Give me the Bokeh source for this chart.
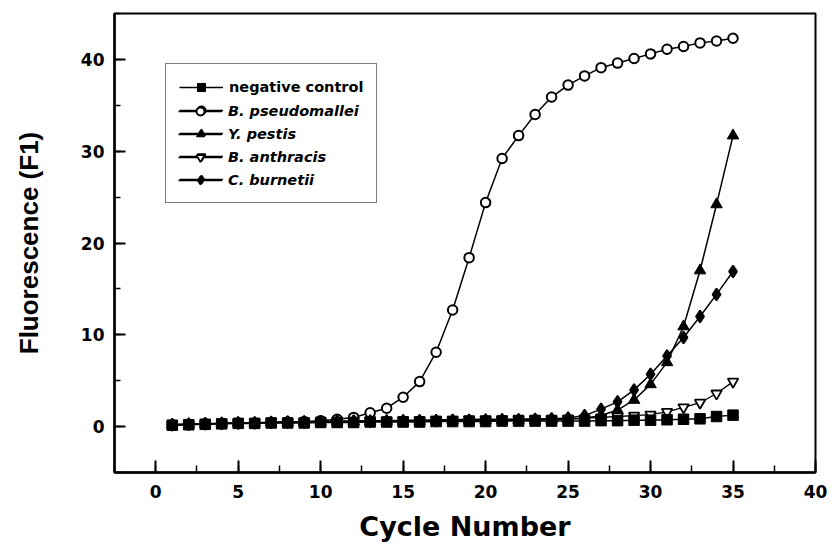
import numpy as np
from bokeh.plotting import figure
from bokeh.models import Legend, LegendItem, SingleIntervalTicker, Range1d
from bokeh.core.properties import value
from bokeh.embed import file_html
from bokeh.resources import INLINE

cycles = list(range(1, 36))

negative_control = [0.15, 0.2, 0.25, 0.3, 0.35, 0.35, 0.4, 0.4, 0.4, 0.45,
                    0.45, 0.45, 0.5, 0.5, 0.5, 0.5, 0.55, 0.55, 0.55, 0.55,
                    0.6, 0.6, 0.6, 0.6, 0.6, 0.6, 0.65, 0.65, 0.7, 0.7,
                    0.75, 0.8, 0.85, 1.1, 1.25]
b_pseudomallei = [0.2, 0.25, 0.3, 0.35, 0.4, 0.4, 0.45, 0.5, 0.55, 0.65,
                  0.8, 1.0, 1.5, 2.0, 3.2, 4.9, 8.1, 12.7, 18.4, 24.4,
                  29.2, 31.7, 34.0, 35.9, 37.2, 38.2, 39.1, 39.6, 40.1, 40.6,
                  41.1, 41.4, 41.8, 42.0, 42.3]
y_pestis = [0.2, 0.25, 0.3, 0.35, 0.4, 0.4, 0.45, 0.45, 0.5, 0.5,
            0.55, 0.55, 0.55, 0.6, 0.6, 0.6, 0.65, 0.65, 0.65, 0.7,
            0.7, 0.7, 0.7, 0.75, 0.8, 0.9, 1.2, 1.8, 2.9, 4.6,
            7.0, 10.9, 17.0, 24.2, 31.7]
b_anthracis = [0.2, 0.25, 0.3, 0.35, 0.4, 0.45, 0.45, 0.5, 0.5, 0.55,
               0.6, 0.6, 0.65, 0.65, 0.7, 0.7, 0.75, 0.75, 0.8, 0.8,
               0.8, 0.85, 0.85, 0.85, 0.9, 0.9, 1.0, 1.1, 1.2, 1.3,
               1.6, 2.1, 2.6, 3.6, 4.9]
c_burnetii = [0.2, 0.25, 0.3, 0.35, 0.4, 0.4, 0.45, 0.5, 0.5, 0.55,
              0.55, 0.6, 0.6, 0.6, 0.65, 0.65, 0.65, 0.7, 0.7, 0.7,
              0.75, 0.75, 0.8, 0.85, 0.95, 1.2, 1.9, 2.7, 4.0, 5.7,
              7.7, 9.7, 12.0, 14.4, 16.9]

series_labels = ["negative control", "B. pseudomallei", "Y. pestis",
                 "B. anthracis", "C. burnetii"]

p = figure(width=827, height=546, title=None,
           x_range=Range1d(-2.5, 40), y_range=Range1d(-5, 45),
           output_backend="svg", toolbar_location=None,
           min_border_left=114, min_border_right=12,
           min_border_top=13, min_border_bottom=74)

p.xgrid.visible = False
p.ygrid.visible = False
p.outline_line_color = "black"
p.outline_line_width = 2
p.background_fill_color = "white"
p.border_fill_color = "white"

p.xaxis.ticker = SingleIntervalTicker(interval=5, num_minor_ticks=2)
p.yaxis.ticker = SingleIntervalTicker(interval=10, num_minor_ticks=2)

for ax in (p.xaxis[0], p.yaxis[0]):
    ax.axis_line_color = "black"
    ax.axis_line_width = 2.5
    ax.major_tick_line_color = "black"
    ax.minor_tick_line_color = "black"
    ax.major_tick_line_width = 2
    ax.minor_tick_line_width = 1.5
    ax.major_tick_out = 0
    ax.minor_tick_out = 0
    ax.major_label_text_font = "DejaVu Sans"
    ax.major_label_text_font_style = "bold"
    ax.major_label_text_font_size = "17px"
    ax.major_label_text_color = "black"
    ax.axis_label_text_font_style = "bold"
    ax.axis_label_text_color = "black"

p.xaxis.major_tick_in = 12
p.xaxis.minor_tick_in = 7
p.yaxis.major_tick_in = 11
p.yaxis.minor_tick_in = 6

p.xaxis.axis_label = "Cycle Number"
p.xaxis.axis_label_text_font = "DejaVu Sans"
p.xaxis.axis_label_text_font_size = "27px"
p.xaxis.major_label_standoff = 12
p.xaxis.axis_label_standoff = 10

p.yaxis.axis_label = "Fluorescence (F1)"
p.yaxis.axis_label_text_font = "Liberation Sans"
p.yaxis.axis_label_text_font_size = "26px"
p.yaxis.major_label_standoff = 10
p.yaxis.axis_label_standoff = 34

# series
l_bp = p.line(cycles, b_pseudomallei, line_color="black", line_width=1.5)
s_bp = p.scatter(cycles, b_pseudomallei, marker="circle", size=9.5,
                 fill_color="white", line_color="black", line_width=2)

l_ba = p.line(cycles, b_anthracis, line_color="black", line_width=1.3)
s_ba = p.scatter(cycles, b_anthracis, marker="inverted_triangle", size=10.5,
                 fill_color="white", line_color="black", line_width=1.8)

l_yp = p.line(cycles, y_pestis, line_color="black", line_width=1.5)
s_yp = p.scatter(cycles, y_pestis, marker="triangle", size=11.5,
                 fill_color="black", line_color="black")

l_cb = p.line(cycles, c_burnetii, line_color="black", line_width=1.5)
s_cb = p.scatter(cycles, c_burnetii, marker="diamond", size=12,
                 fill_color="black", line_color="black", line_width=1.8)

l_nc = p.line(cycles, negative_control, line_color="black", line_width=1.5)
s_nc = p.scatter(cycles, negative_control, marker="square", size=10.5,
                 fill_color="black", line_color="black")

rend = [[l_nc, s_nc], [l_bp, s_bp], [l_yp, s_yp], [l_ba, s_ba], [l_cb, s_cb]]

common = dict(location=(51, 269), padding=13, margin=0, spacing=3,
              glyph_height=20, glyph_width=44, label_height=20,
              label_standoff=6, label_text_font="DejaVu Sans",
              label_text_font_size="14.5px", label_text_color="black",
              background_fill_alpha=0)

items_a = [LegendItem(label=value(series_labels[0]), renderers=rend[0])]
items_a += [LegendItem(label=value(" "), renderers=r) for r in rend[1:]]
legend_a = Legend(items=items_a, label_text_font_style="bold",
                  border_line_color="black", border_line_width=1.5, **common)

items_b = [LegendItem(label=value(lbl), renderers=r)
           for lbl, r in zip(series_labels[1:], rend[1:])]
legend_b = Legend(items=items_b, label_text_font_style="bold italic",
                  border_line_alpha=0, **common)

p.add_layout(legend_a, "center")
p.add_layout(legend_b, "center")

open("out.html", "w").write(file_html(p, INLINE))
